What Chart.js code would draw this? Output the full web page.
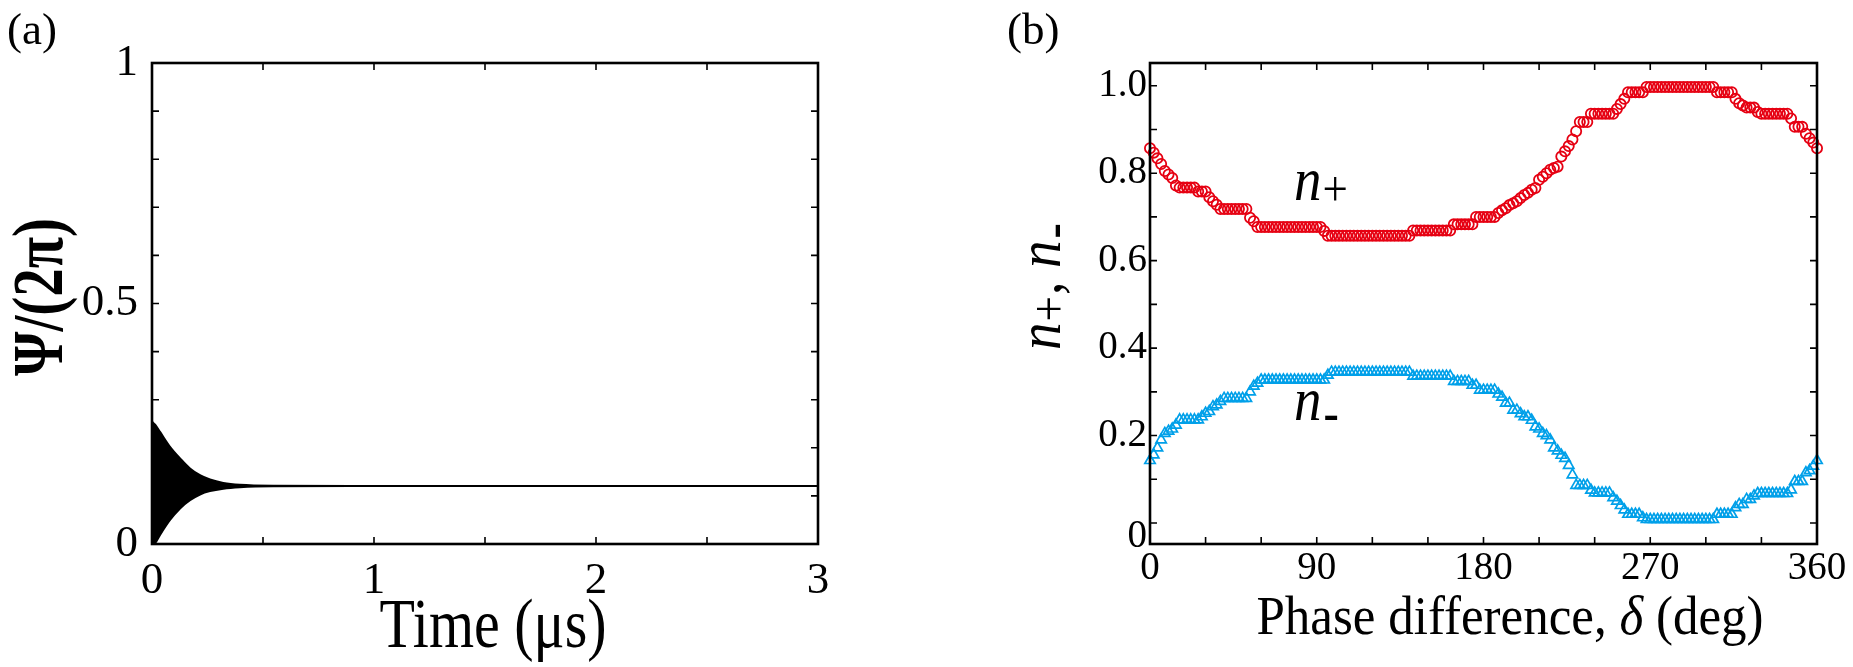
<!DOCTYPE html>
<html><head><meta charset="utf-8">
<script src="https://cdn.jsdelivr.net/npm/chart.js@4.4.1/dist/chart.umd.min.js"></script>
<style>
html,body{margin:0;padding:0;background:#fff;}
#wrap{position:relative;width:1853px;height:667px;overflow:hidden;background:#fff;}
.box{position:absolute;top:0;height:667px;}
</style></head><body>
<div id="wrap">
<div class="box" style="left:0;width:930px"><canvas id="ca"></canvas></div>
<div class="box" style="left:930px;width:923px"><canvas id="cb"></canvas></div>
</div>
<script>
// ---------- Panel (a) data: envelope of the fast oscillation ----------
const timeUs    = [0, 0.014, 0.036, 0.081, 0.126, 0.171, 0.216, 0.261, 0.321, 0.396, 0.546, 1.0, 2.0, 3.0];
const psiUpper  = [0.254, 0.248, 0.233, 0.202, 0.178, 0.157, 0.143, 0.134, 0.127, 0.123, 0.121, 0.1205, 0.1205, 0.1205];
const psiLower  = [0.000, 0.002, 0.019, 0.050, 0.074, 0.091, 0.103, 0.110, 0.115, 0.118, 0.120, 0.1205, 0.1205, 0.1205];
const xTicksA   = [0, 0.5, 1, 1.5, 2, 2.5, 3];
const xLabelsA  = ['0', '', '1', '', '2', '', '3'];
const yTicksA   = [0, 0.1, 0.2, 0.3, 0.4, 0.5, 0.6, 0.7, 0.8, 0.9, 1.0];
const yLabelsA  = ['0', '', '', '', '', '0.5', '', '', '', '', '1'];

// ---------- Panel (b) data ----------
const phaseDeg = [
  0,2,4,6,8,10,12,14,16,18,
  20,22,24,26,28,30,32,34,36,38,
  40,42,44,46,48,50,52,54,56,58,
  60,62,64,66,68,70,72,74,76,78,
  80,82,84,86,88,90,92,94,96,98,
  100,102,104,106,108,110,112,114,116,118,
  120,122,124,126,128,130,132,134,136,138,
  140,142,144,146,148,150,152,154,156,158,
  160,162,164,166,168,170,172,174,176,178,
  180,182,184,186,188,190,192,194,196,198,
  200,202,204,206,208,210,212,214,216,218,
  220,222,224,226,228,230,232,234,236,238,
  240,242,244,246,248,250,252,254,256,258,
  260,262,264,266,268,270,272,274,276,278,
  280,282,284,286,288,290,292,294,296,298,
  300,302,304,306,308,310,312,314,316,318,
  320,322,324,326,328,330,332,334,336,338,
  340,342,344,346,348,350,352,354,356,358,
  360];
const nPlus = [
  0.857,0.847,0.834,0.821,0.805,0.797,0.789,0.772,0.767,0.767,
  0.767,0.767,0.767,0.758,0.758,0.758,0.745,0.736,0.728,0.718,
  0.718,0.718,0.718,0.718,0.718,0.718,0.718,0.698,0.690,0.677,
  0.677,0.677,0.677,0.677,0.677,0.677,0.677,0.677,0.677,0.677,
  0.677,0.677,0.677,0.677,0.677,0.677,0.677,0.668,0.657,0.657,
  0.657,0.657,0.657,0.657,0.657,0.657,0.657,0.657,0.657,0.657,
  0.657,0.657,0.657,0.657,0.657,0.657,0.657,0.657,0.657,0.657,
  0.657,0.669,0.669,0.669,0.669,0.669,0.669,0.669,0.669,0.669,
  0.669,0.669,0.683,0.683,0.683,0.683,0.683,0.683,0.700,0.700,
  0.700,0.700,0.700,0.700,0.709,0.715,0.720,0.727,0.731,0.736,
  0.743,0.750,0.755,0.762,0.766,0.785,0.792,0.800,0.808,0.812,
  0.815,0.838,0.850,0.862,0.877,0.896,0.917,0.917,0.917,0.936,
  0.936,0.936,0.936,0.936,0.936,0.936,0.947,0.958,0.970,0.985,
  0.985,0.985,0.985,0.985,0.997,0.997,0.997,0.997,0.997,0.997,
  0.997,0.997,0.997,0.997,0.997,0.997,0.997,0.997,0.997,0.997,
  0.997,0.997,0.997,0.985,0.985,0.985,0.985,0.985,0.970,0.960,
  0.955,0.950,0.950,0.950,0.940,0.936,0.936,0.936,0.936,0.936,
  0.936,0.936,0.936,0.925,0.906,0.906,0.906,0.890,0.880,0.870,
  0.857];
const nMinus = [
  0.143,0.156,0.172,0.190,0.205,0.210,0.215,0.224,0.236,0.236,
  0.236,0.236,0.236,0.236,0.243,0.251,0.255,0.266,0.270,0.278,
  0.285,0.285,0.285,0.285,0.285,0.285,0.285,0.300,0.313,0.320,
  0.327,0.327,0.327,0.327,0.327,0.327,0.327,0.327,0.327,0.327,
  0.327,0.327,0.327,0.327,0.327,0.327,0.327,0.327,0.338,0.345,
  0.345,0.345,0.345,0.345,0.345,0.345,0.345,0.345,0.345,0.345,
  0.345,0.345,0.345,0.345,0.345,0.345,0.345,0.345,0.345,0.345,
  0.345,0.336,0.336,0.336,0.336,0.336,0.336,0.336,0.336,0.336,
  0.336,0.336,0.324,0.324,0.324,0.324,0.324,0.315,0.315,0.304,
  0.304,0.304,0.304,0.304,0.295,0.288,0.274,0.274,0.258,0.258,
  0.250,0.243,0.243,0.235,0.220,0.215,0.205,0.200,0.190,0.172,
  0.165,0.155,0.148,0.132,0.110,0.086,0.086,0.086,0.086,0.075,
  0.069,0.069,0.069,0.069,0.069,0.058,0.050,0.040,0.030,0.020,
  0.020,0.020,0.020,0.012,0.008,0.008,0.008,0.008,0.008,0.008,
  0.008,0.008,0.008,0.008,0.008,0.008,0.008,0.008,0.008,0.008,
  0.008,0.008,0.008,0.020,0.020,0.020,0.020,0.020,0.035,0.0425,
  0.0425,0.054,0.054,0.062,0.0675,0.0675,0.0675,0.0675,0.0675,0.0675,
  0.0675,0.0675,0.0675,0.076,0.095,0.095,0.095,0.115,0.120,0.130,
  0.143];
const xTicksB  = [0, 30, 60, 90, 120, 150, 180, 210, 240, 270, 300, 330, 360];
const xLabelsB = ['0', '', '', '90', '', '', '180', '', '', '270', '', '', '360'];
const yTicksB  = [0, 0.1, 0.2, 0.3, 0.4, 0.5, 0.6, 0.7, 0.8, 0.9, 1.0];
const yLabelsB = ['0', '', '0.2', '', '0.4', '', '0.6', '', '0.8', '', '1.0'];

const SERIF = '"Liberation Serif", "Times New Roman", serif';
const RED = '#e60012', BLUE = '#00a0e9';
Chart.defaults.font.family = SERIF;
Chart.defaults.color = '#000';

// ---------- shared plugin: frame with inward ticks on all four sides ----------
const framePlugin = {
  id: 'frame',
  afterDatasetsDraw(chart) {
    const {ctx, chartArea: {left, right, top, bottom}} = chart;
    const xs = chart.scales.x, ys = chart.scales.y;
    const L = 7;
    ctx.save();
    ctx.strokeStyle = '#000';
    ctx.lineWidth = 1.6;
    ctx.beginPath();
    xs.ticks.forEach(t => {
      const p = xs.getPixelForValue(t.value);
      if (p <= left + 2 || p >= right - 2) return;
      ctx.moveTo(p, bottom); ctx.lineTo(p, bottom - L);
      ctx.moveTo(p, top); ctx.lineTo(p, top + L);
    });
    ys.ticks.forEach(t => {
      const p = ys.getPixelForValue(t.value);
      if (p <= top + 2 || p >= bottom - 2) return;
      ctx.moveTo(left, p); ctx.lineTo(left + L, p);
      ctx.moveTo(right, p); ctx.lineTo(right - L, p);
    });
    ctx.stroke();
    ctx.lineWidth = 2.6;
    ctx.strokeRect(left, top, right - left, bottom - top);
    ctx.restore();
  }
};

// draw text stretched perpendicular to its baseline (the original's titles are tall)
function tallText(ctx, txt, x, y, font, stretch, align) {
  ctx.save();
  ctx.translate(x, y);
  ctx.scale(1, stretch);
  ctx.font = font;
  ctx.textAlign = align || 'left';
  ctx.textBaseline = 'alphabetic';
  ctx.fillText(txt, 0, 0);
  ctx.restore();
}

// ---------- panel (a) texts ----------
const textA = {
  id: 'textA',
  afterDraw(chart) {
    const ctx = chart.ctx;
    ctx.save();
    ctx.fillStyle = '#000';
    tallText(ctx, '(a)', 7, 44, '45px ' + SERIF, 1.0, 'left');
    tallText(ctx, 'Time (\u03bcs)', 493, 647, '58px ' + SERIF, 1.22, 'center');
    ctx.save();
    ctx.translate(62, 297);
    ctx.rotate(-Math.PI / 2);
    tallText(ctx, '\u03a8/(2\u03c0)', 0, 0, 'bold 57px ' + SERIF, 1.25, 'center');
    ctx.restore();
    ctx.restore();
  }
};

function drawN(ctx, x, y, sub) {
  // italic n with a + or - subscript; returns advance width
  ctx.textAlign = 'left';
  ctx.textBaseline = 'alphabetic';
  ctx.save();
  ctx.translate(x, y);
  ctx.scale(1, 1.12);
  ctx.font = 'italic 55px ' + SERIF;
  ctx.fillText('n', 0, 0);
  const w = ctx.measureText('n').width;
  let w2;
  if (sub === '+') {
    ctx.font = '45px ' + SERIF;
    ctx.fillText('+', w + 1, 5);
    w2 = ctx.measureText('+').width;
  } else {
    ctx.font = 'bold 46px ' + SERIF;
    ctx.fillText('-', w + 2, 9);
    w2 = ctx.measureText('-').width;
  }
  ctx.restore();
  return w + 2 + w2;
}

// ---------- panel (b) texts ----------
const textB = {
  id: 'textB',
  afterDraw(chart) {
    const ctx = chart.ctx;
    const ys = chart.scales.y;
    ctx.save();
    ctx.fillStyle = '#000';
    tallText(ctx, '(b)', 77, 44, '45px ' + SERIF, 1.0, 'left');

    // y tick label "0" (sits slightly lower than its tick, as in the original)
    ctx.font = '39px ' + SERIF;
    ctx.textAlign = 'right';
    ctx.textBaseline = 'middle';
    ctx.fillText(yLabelsB[0], 217, ys.getPixelForValue(0) + 14);

    // x title with italic delta
    const p1 = 'Phase difference, ', p2 = '\u03b4', p3 = ' (deg)';
    const f = '51px ' + SERIF, fi = 'italic 51px ' + SERIF;
    ctx.font = f; const w1 = ctx.measureText(p1).width, w3 = ctx.measureText(p3).width;
    ctx.font = fi; const w2 = ctx.measureText(p2).width;
    const x0 = 580 - (w1 + w2 + w3) / 2, yb = 634, st = 1.06;
    tallText(ctx, p1, x0, yb, f, st);
    tallText(ctx, p2, x0 + w1, yb, fi, st);
    tallText(ctx, p3, x0 + w1 + w2, yb, f, st);

    // in-plot labels
    drawN(ctx, 364, 200, '+');
    drawN(ctx, 364, 420, '-');

    // rotated y title: n+, n-
    ctx.save();
    ctx.translate(130, 350);
    ctx.rotate(-Math.PI / 2);
    let w = drawN(ctx, 0, 0, '+');
    ctx.save();
    ctx.scale(1, 1.12);
    ctx.font = '54px ' + SERIF;
    ctx.textAlign = 'left';
    ctx.fillText(', ', w, 0);
    w += ctx.measureText(', ').width;
    ctx.restore();
    drawN(ctx, w, 0, '-');
    ctx.restore();
    ctx.restore();
  }
};

function fixedTicks(values) {
  return function (scale) { scale.ticks = values.map(v => ({value: v})); };
}

// ---------- chart (a) ----------
new Chart(document.getElementById('ca'), {
  type: 'line',
  data: {
    datasets: [
      {data: timeUs.map((t, i) => ({x: t, y: psiUpper[i]})), borderColor: '#000', borderWidth: 2.1,
       pointRadius: 0, fill: '+1', backgroundColor: '#000', cubicInterpolationMode: 'monotone'},
      {data: timeUs.map((t, i) => ({x: t, y: psiLower[i]})), borderColor: '#000', borderWidth: 2.1,
       pointRadius: 0, fill: false, cubicInterpolationMode: 'monotone'}
    ]
  },
  options: {
    responsive: true, maintainAspectRatio: false, animation: false, devicePixelRatio: 1,
    layout: {padding: {left: 0, top: 63, right: 112, bottom: 0}},
    plugins: {legend: {display: false}, tooltip: {enabled: false}},
    scales: {
      x: {type: 'linear', min: 0, max: 3,
          afterBuildTicks: fixedTicks(xTicksA),
          afterFit(s) { s.height = 123; },
          grid: {display: false, drawTicks: false}, border: {display: false},
          ticks: {callback: (v, i) => xLabelsA[i], font: {family: SERIF, size: 45, lineHeight: 1},
                  color: '#000', padding: 15, maxRotation: 0, autoSkip: false}},
      y: {type: 'linear', min: 0, max: 1,
          afterBuildTicks: fixedTicks(yTicksA),
          afterFit(s) { s.width = 152; },
          grid: {display: false, drawTicks: false}, border: {display: false},
          ticks: {callback: (v, i) => yLabelsA[i], font: {family: SERIF, size: 45, lineHeight: 1},
                  color: '#000', padding: 14, autoSkip: false}}
    }
  },
  plugins: [framePlugin, textA]
});

// ---------- chart (b) ----------
new Chart(document.getElementById('cb'), {
  type: 'scatter',
  data: {
    datasets: [
      {label: 'n+', data: phaseDeg.map((d, i) => ({x: d, y: nPlus[i]})), pointStyle: 'circle', pointRadius: 5.1,
       borderColor: RED, backgroundColor: 'rgba(0,0,0,0)', borderWidth: 1.8, clip: false},
      {label: 'n-', data: phaseDeg.map((d, i) => ({x: d, y: nMinus[i]})), pointStyle: 'triangle', pointRadius: 6,
       borderColor: BLUE, backgroundColor: 'rgba(0,0,0,0)', borderWidth: 1.7, clip: false}
    ]
  },
  options: {
    responsive: true, maintainAspectRatio: false, animation: false, devicePixelRatio: 1,
    layout: {padding: {left: 0, top: 63, right: 36, bottom: 0}},
    plugins: {legend: {display: false}, tooltip: {enabled: false}},
    scales: {
      x: {type: 'linear', min: 0, max: 360,
          afterBuildTicks: fixedTicks(xTicksB),
          afterFit(s) { s.height = 123; },
          grid: {display: false, drawTicks: false}, border: {display: false},
          ticks: {callback: (v, i) => xLabelsB[i], font: {family: SERIF, size: 39, lineHeight: 1},
                  color: '#000', padding: 5, maxRotation: 0, autoSkip: false}},
      y: {type: 'linear', min: -0.048, max: 1.052,
          afterBuildTicks: fixedTicks(yTicksB),
          afterFit(s) { s.width = 220; },
          grid: {display: false, drawTicks: false}, border: {display: false},
          ticks: {callback: (v, i) => (i === 0 ? '' : yLabelsB[i]), font: {family: SERIF, size: 39, lineHeight: 1},
                  color: '#000', padding: 3, autoSkip: false}}
    }
  },
  plugins: [framePlugin, textB]
});
</script>
</body></html>
